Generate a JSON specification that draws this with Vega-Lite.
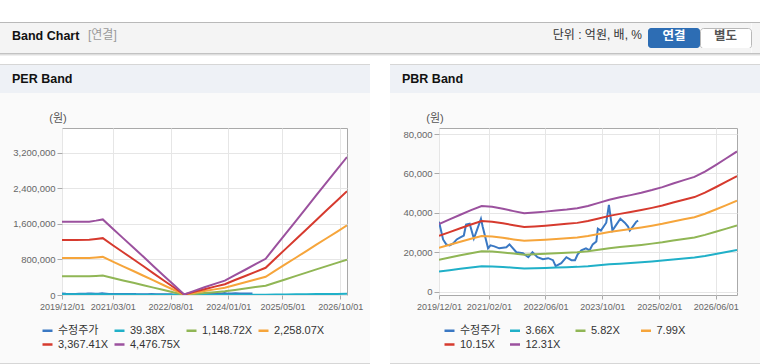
{
  "$schema": "https://vega.github.io/schema/vega-lite/v6.json",
  "padding": 0,
  "background": "#fafafa",
  "config": {
    "view": {"stroke": null},
    "concat": {"spacing": 0},
    "font": "'Liberation Sans','Noto Sans CJK KR',sans-serif",
    "title": {"baseline": "alphabetic", "frame": "group", "anchor": "start", "offset": -19}
  },
  "datasets": {
    "price": [
      {"d":"2019-12-01","s":"수정주가","v":35500},{"d":"2020-01-05","s":"수정주가","v":26500},{"d":"2020-02-01","s":"수정주가","v":24000},{"d":"2020-03-01","s":"수정주가","v":23500},{"d":"2020-04-01","s":"수정주가","v":24500},{"d":"2020-05-01","s":"수정주가","v":26500},{"d":"2020-06-01","s":"수정주가","v":27500},{"d":"2020-07-01","s":"수정주가","v":28500},{"d":"2020-07-20","s":"수정주가","v":34000},{"d":"2020-08-20","s":"수정주가","v":34500},{"d":"2020-09-25","s":"수정주가","v":27000},{"d":"2020-10-20","s":"수정주가","v":31000},{"d":"2020-11-25","s":"수정주가","v":37000},{"d":"2020-12-10","s":"수정주가","v":33000},{"d":"2021-01-25","s":"수정주가","v":22000},{"d":"2021-02-15","s":"수정주가","v":23500},{"d":"2021-03-20","s":"수정주가","v":23000},{"d":"2021-05-01","s":"수정주가","v":22000},{"d":"2021-07-01","s":"수정주가","v":22500},{"d":"2021-07-28","s":"수정주가","v":24000},{"d":"2021-09-25","s":"수정주가","v":20000},{"d":"2021-11-20","s":"수정주가","v":19500},{"d":"2022-01-05","s":"수정주가","v":17500},{"d":"2022-02-10","s":"수정주가","v":20000},{"d":"2022-03-25","s":"수정주가","v":17500},{"d":"2022-05-10","s":"수정주가","v":16500},{"d":"2022-06-25","s":"수정주가","v":17000},{"d":"2022-08-05","s":"수정주가","v":16000},{"d":"2022-08-28","s":"수정주가","v":13000},{"d":"2022-10-15","s":"수정주가","v":14500},{"d":"2022-11-28","s":"수정주가","v":17500},{"d":"2023-01-10","s":"수정주가","v":16000},{"d":"2023-02-10","s":"수정주가","v":16000},{"d":"2023-03-05","s":"수정주가","v":19000},{"d":"2023-04-05","s":"수정주가","v":21000},{"d":"2023-05-15","s":"수정주가","v":22000},{"d":"2023-06-15","s":"수정주가","v":21000},{"d":"2023-07-12","s":"수정주가","v":24000},{"d":"2023-08-12","s":"수정주가","v":25500},{"d":"2023-08-25","s":"수정주가","v":32000},{"d":"2023-09-20","s":"수정주가","v":31000},{"d":"2023-11-05","s":"수정주가","v":35000},{"d":"2023-11-28","s":"수정주가","v":44000},{"d":"2023-12-28","s":"수정주가","v":31000},{"d":"2024-01-31","s":"수정주가","v":34000},{"d":"2024-03-05","s":"수정주가","v":37000},{"d":"2024-04-12","s":"수정주가","v":35000},{"d":"2024-05-10","s":"수정주가","v":33000},{"d":"2024-05-25","s":"수정주가","v":31000},{"d":"2024-06-20","s":"수정주가","v":33000},{"d":"2024-07-20","s":"수정주가","v":35500},{"d":"2024-08-05","s":"수정주가","v":36000}
    ],
    "per": [
      {"d":"2019-12-01","s":"39.38X","v":14492},{"d":"2020-04-01","s":"39.38X","v":14492},{"d":"2020-08-01","s":"39.38X","v":14531},{"d":"2020-10-01","s":"39.38X","v":14728},{"d":"2020-12-01","s":"39.38X","v":14964},{"d":"2021-03-01","s":"39.38X","v":13114},{"d":"2021-06-01","s":"39.38X","v":11263},{"d":"2021-09-01","s":"39.38X","v":9412},{"d":"2021-12-01","s":"39.38X","v":7561},{"d":"2022-03-01","s":"39.38X","v":5710},{"d":"2022-06-01","s":"39.38X","v":3820},{"d":"2022-09-01","s":"39.38X","v":1969},{"d":"2022-12-01","s":"39.38X","v":118},{"d":"2023-03-01","s":"39.38X","v":827},{"d":"2023-06-01","s":"39.38X","v":1536},{"d":"2023-09-01","s":"39.38X","v":2205},{"d":"2023-12-01","s":"39.38X","v":2835},{"d":"2024-03-01","s":"39.38X","v":3938},{"d":"2024-06-01","s":"39.38X","v":5001},{"d":"2024-09-01","s":"39.38X","v":6104},{"d":"2024-12-01","s":"39.38X","v":7167},{"d":"2025-03-01","s":"39.38X","v":9687},{"d":"2025-06-01","s":"39.38X","v":12208},{"d":"2025-09-01","s":"39.38X","v":14728},{"d":"2025-12-01","s":"39.38X","v":17248},{"d":"2026-03-01","s":"39.38X","v":19769},{"d":"2026-06-01","s":"39.38X","v":22289},{"d":"2026-09-01","s":"39.38X","v":24809},{"d":"2026-12-01","s":"39.38X","v":27330},
      {"d":"2019-12-01","s":"1,148.72X","v":422729},{"d":"2020-04-01","s":"1,148.72X","v":422729},{"d":"2020-08-01","s":"1,148.72X","v":423878},{"d":"2020-10-01","s":"1,148.72X","v":429621},{"d":"2020-12-01","s":"1,148.72X","v":436514},{"d":"2021-03-01","s":"1,148.72X","v":382524},{"d":"2021-06-01","s":"1,148.72X","v":328534},{"d":"2021-09-01","s":"1,148.72X","v":274544},{"d":"2021-12-01","s":"1,148.72X","v":220554},{"d":"2022-03-01","s":"1,148.72X","v":166564},{"d":"2022-06-01","s":"1,148.72X","v":111426},{"d":"2022-09-01","s":"1,148.72X","v":57436},{"d":"2022-12-01","s":"1,148.72X","v":3446},{"d":"2023-03-01","s":"1,148.72X","v":24123},{"d":"2023-06-01","s":"1,148.72X","v":44800},{"d":"2023-09-01","s":"1,148.72X","v":64328},{"d":"2023-12-01","s":"1,148.72X","v":82708},{"d":"2024-03-01","s":"1,148.72X","v":114872},{"d":"2024-06-01","s":"1,148.72X","v":145887},{"d":"2024-09-01","s":"1,148.72X","v":178052},{"d":"2024-12-01","s":"1,148.72X","v":209067},{"d":"2025-03-01","s":"1,148.72X","v":282585},{"d":"2025-06-01","s":"1,148.72X","v":356103},{"d":"2025-09-01","s":"1,148.72X","v":429621},{"d":"2025-12-01","s":"1,148.72X","v":503139},{"d":"2026-03-01","s":"1,148.72X","v":576657},{"d":"2026-06-01","s":"1,148.72X","v":650176},{"d":"2026-09-01","s":"1,148.72X","v":723694},{"d":"2026-12-01","s":"1,148.72X","v":797212},
      {"d":"2019-12-01","s":"2,258.07X","v":830970},{"d":"2020-04-01","s":"2,258.07X","v":830970},{"d":"2020-08-01","s":"2,258.07X","v":833228},{"d":"2020-10-01","s":"2,258.07X","v":844518},{"d":"2020-12-01","s":"2,258.07X","v":858067},{"d":"2021-03-01","s":"2,258.07X","v":751937},{"d":"2021-06-01","s":"2,258.07X","v":645808},{"d":"2021-09-01","s":"2,258.07X","v":539679},{"d":"2021-12-01","s":"2,258.07X","v":433549},{"d":"2022-03-01","s":"2,258.07X","v":327420},{"d":"2022-06-01","s":"2,258.07X","v":219033},{"d":"2022-09-01","s":"2,258.07X","v":112904},{"d":"2022-12-01","s":"2,258.07X","v":6774},{"d":"2023-03-01","s":"2,258.07X","v":47419},{"d":"2023-06-01","s":"2,258.07X","v":88065},{"d":"2023-09-01","s":"2,258.07X","v":126452},{"d":"2023-12-01","s":"2,258.07X","v":162581},{"d":"2024-03-01","s":"2,258.07X","v":225807},{"d":"2024-06-01","s":"2,258.07X","v":286775},{"d":"2024-09-01","s":"2,258.07X","v":350001},{"d":"2024-12-01","s":"2,258.07X","v":410969},{"d":"2025-03-01","s":"2,258.07X","v":555485},{"d":"2025-06-01","s":"2,258.07X","v":700002},{"d":"2025-09-01","s":"2,258.07X","v":844518},{"d":"2025-12-01","s":"2,258.07X","v":989035},{"d":"2026-03-01","s":"2,258.07X","v":1133551},{"d":"2026-06-01","s":"2,258.07X","v":1278068},{"d":"2026-09-01","s":"2,258.07X","v":1422584},{"d":"2026-12-01","s":"2,258.07X","v":1567101},
      {"d":"2019-12-01","s":"3,367.41X","v":1239207},{"d":"2020-04-01","s":"3,367.41X","v":1239207},{"d":"2020-08-01","s":"3,367.41X","v":1242574},{"d":"2020-10-01","s":"3,367.41X","v":1259411},{"d":"2020-12-01","s":"3,367.41X","v":1279616},{"d":"2021-03-01","s":"3,367.41X","v":1121348},{"d":"2021-06-01","s":"3,367.41X","v":963079},{"d":"2021-09-01","s":"3,367.41X","v":804811},{"d":"2021-12-01","s":"3,367.41X","v":646543},{"d":"2022-03-01","s":"3,367.41X","v":488274},{"d":"2022-06-01","s":"3,367.41X","v":326639},{"d":"2022-09-01","s":"3,367.41X","v":168371},{"d":"2022-12-01","s":"3,367.41X","v":10102},{"d":"2023-03-01","s":"3,367.41X","v":70716},{"d":"2023-06-01","s":"3,367.41X","v":131329},{"d":"2023-09-01","s":"3,367.41X","v":188575},{"d":"2023-12-01","s":"3,367.41X","v":242454},{"d":"2024-03-01","s":"3,367.41X","v":336741},{"d":"2024-06-01","s":"3,367.41X","v":427661},{"d":"2024-09-01","s":"3,367.41X","v":521949},{"d":"2024-12-01","s":"3,367.41X","v":612869},{"d":"2025-03-01","s":"3,367.41X","v":828383},{"d":"2025-06-01","s":"3,367.41X","v":1043897},{"d":"2025-09-01","s":"3,367.41X","v":1259411},{"d":"2025-12-01","s":"3,367.41X","v":1474926},{"d":"2026-03-01","s":"3,367.41X","v":1690440},{"d":"2026-06-01","s":"3,367.41X","v":1905954},{"d":"2026-09-01","s":"3,367.41X","v":2121468},{"d":"2026-12-01","s":"3,367.41X","v":2336983},
      {"d":"2019-12-01","s":"4,476.75X","v":1647444},{"d":"2020-04-01","s":"4,476.75X","v":1647444},{"d":"2020-08-01","s":"4,476.75X","v":1651921},{"d":"2020-10-01","s":"4,476.75X","v":1674305},{"d":"2020-12-01","s":"4,476.75X","v":1701165},{"d":"2021-03-01","s":"4,476.75X","v":1490758},{"d":"2021-06-01","s":"4,476.75X","v":1280351},{"d":"2021-09-01","s":"4,476.75X","v":1069943},{"d":"2021-12-01","s":"4,476.75X","v":859536},{"d":"2022-03-01","s":"4,476.75X","v":649129},{"d":"2022-06-01","s":"4,476.75X","v":434245},{"d":"2022-09-01","s":"4,476.75X","v":223838},{"d":"2022-12-01","s":"4,476.75X","v":13430},{"d":"2023-03-01","s":"4,476.75X","v":94012},{"d":"2023-06-01","s":"4,476.75X","v":174593},{"d":"2023-09-01","s":"4,476.75X","v":250698},{"d":"2023-12-01","s":"4,476.75X","v":322326},{"d":"2024-03-01","s":"4,476.75X","v":447675},{"d":"2024-06-01","s":"4,476.75X","v":568547},{"d":"2024-09-01","s":"4,476.75X","v":693896},{"d":"2024-12-01","s":"4,476.75X","v":814769},{"d":"2025-03-01","s":"4,476.75X","v":1101281},{"d":"2025-06-01","s":"4,476.75X","v":1387793},{"d":"2025-09-01","s":"4,476.75X","v":1674305},{"d":"2025-12-01","s":"4,476.75X","v":1960817},{"d":"2026-03-01","s":"4,476.75X","v":2247329},{"d":"2026-06-01","s":"4,476.75X","v":2533841},{"d":"2026-09-01","s":"4,476.75X","v":2820353},{"d":"2026-12-01","s":"4,476.75X","v":3106865}
    ],
    "pbr": [
      {"d":"2019-12-01","s":"3.66X","v":10211},{"d":"2020-03-01","s":"3.66X","v":10907},{"d":"2020-06-01","s":"3.66X","v":11602},{"d":"2020-09-01","s":"3.66X","v":12298},{"d":"2020-12-01","s":"3.66X","v":12920},{"d":"2021-03-01","s":"3.66X","v":12810},{"d":"2021-06-01","s":"3.66X","v":12517},{"d":"2021-09-01","s":"3.66X","v":12151},{"d":"2021-12-01","s":"3.66X","v":11822},{"d":"2022-03-01","s":"3.66X","v":11932},{"d":"2022-06-01","s":"3.66X","v":12078},{"d":"2022-09-01","s":"3.66X","v":12261},{"d":"2022-12-01","s":"3.66X","v":12407},{"d":"2023-03-01","s":"3.66X","v":12590},{"d":"2023-06-01","s":"3.66X","v":12920},{"d":"2023-09-01","s":"3.66X","v":13396},{"d":"2023-12-01","s":"3.66X","v":13871},{"d":"2024-03-01","s":"3.66X","v":14237},{"d":"2024-06-01","s":"3.66X","v":14567},{"d":"2024-09-01","s":"3.66X","v":14933},{"d":"2024-12-01","s":"3.66X","v":15335},{"d":"2025-03-01","s":"3.66X","v":15775},{"d":"2025-06-01","s":"3.66X","v":16324},{"d":"2025-09-01","s":"3.66X","v":16836},{"d":"2025-12-01","s":"3.66X","v":17312},{"d":"2026-03-01","s":"3.66X","v":18117},{"d":"2026-06-01","s":"3.66X","v":19105},{"d":"2026-09-01","s":"3.66X","v":20130},{"d":"2026-12-01","s":"3.66X","v":21155},
      {"d":"2019-12-01","s":"5.82X","v":16238},{"d":"2020-03-01","s":"5.82X","v":17344},{"d":"2020-06-01","s":"5.82X","v":18449},{"d":"2020-09-01","s":"5.82X","v":19555},{"d":"2020-12-01","s":"5.82X","v":20545},{"d":"2021-03-01","s":"5.82X","v":20370},{"d":"2021-06-01","s":"5.82X","v":19904},{"d":"2021-09-01","s":"5.82X","v":19322},{"d":"2021-12-01","s":"5.82X","v":18799},{"d":"2022-03-01","s":"5.82X","v":18973},{"d":"2022-06-01","s":"5.82X","v":19206},{"d":"2022-09-01","s":"5.82X","v":19497},{"d":"2022-12-01","s":"5.82X","v":19730},{"d":"2023-03-01","s":"5.82X","v":20021},{"d":"2023-06-01","s":"5.82X","v":20545},{"d":"2023-09-01","s":"5.82X","v":21301},{"d":"2023-12-01","s":"5.82X","v":22058},{"d":"2024-03-01","s":"5.82X","v":22640},{"d":"2024-06-01","s":"5.82X","v":23164},{"d":"2024-09-01","s":"5.82X","v":23746},{"d":"2024-12-01","s":"5.82X","v":24386},{"d":"2025-03-01","s":"5.82X","v":25084},{"d":"2025-06-01","s":"5.82X","v":25957},{"d":"2025-09-01","s":"5.82X","v":26772},{"d":"2025-12-01","s":"5.82X","v":27529},{"d":"2026-03-01","s":"5.82X","v":28809},{"d":"2026-06-01","s":"5.82X","v":30380},{"d":"2026-09-01","s":"5.82X","v":32010},{"d":"2026-12-01","s":"5.82X","v":33640},
      {"d":"2019-12-01","s":"7.99X","v":22292},{"d":"2020-03-01","s":"7.99X","v":23810},{"d":"2020-06-01","s":"7.99X","v":25328},{"d":"2020-09-01","s":"7.99X","v":26846},{"d":"2020-12-01","s":"7.99X","v":28205},{"d":"2021-03-01","s":"7.99X","v":27965},{"d":"2021-06-01","s":"7.99X","v":27326},{"d":"2021-09-01","s":"7.99X","v":26527},{"d":"2021-12-01","s":"7.99X","v":25808},{"d":"2022-03-01","s":"7.99X","v":26047},{"d":"2022-06-01","s":"7.99X","v":26367},{"d":"2022-09-01","s":"7.99X","v":26767},{"d":"2022-12-01","s":"7.99X","v":27086},{"d":"2023-03-01","s":"7.99X","v":27486},{"d":"2023-06-01","s":"7.99X","v":28205},{"d":"2023-09-01","s":"7.99X","v":29243},{"d":"2023-12-01","s":"7.99X","v":30282},{"d":"2024-03-01","s":"7.99X","v":31081},{"d":"2024-06-01","s":"7.99X","v":31800},{"d":"2024-09-01","s":"7.99X","v":32599},{"d":"2024-12-01","s":"7.99X","v":33478},{"d":"2025-03-01","s":"7.99X","v":34437},{"d":"2025-06-01","s":"7.99X","v":35635},{"d":"2025-09-01","s":"7.99X","v":36754},{"d":"2025-12-01","s":"7.99X","v":37793},{"d":"2026-03-01","s":"7.99X","v":39551},{"d":"2026-06-01","s":"7.99X","v":41708},{"d":"2026-09-01","s":"7.99X","v":43945},{"d":"2026-12-01","s":"7.99X","v":46182},
      {"d":"2019-12-01","s":"10.15X","v":28319},{"d":"2020-03-01","s":"10.15X","v":30247},{"d":"2020-06-01","s":"10.15X","v":32176},{"d":"2020-09-01","s":"10.15X","v":34104},{"d":"2020-12-01","s":"10.15X","v":35830},{"d":"2021-03-01","s":"10.15X","v":35525},{"d":"2021-06-01","s":"10.15X","v":34713},{"d":"2021-09-01","s":"10.15X","v":33698},{"d":"2021-12-01","s":"10.15X","v":32785},{"d":"2022-03-01","s":"10.15X","v":33089},{"d":"2022-06-01","s":"10.15X","v":33495},{"d":"2022-09-01","s":"10.15X","v":34003},{"d":"2022-12-01","s":"10.15X","v":34409},{"d":"2023-03-01","s":"10.15X","v":34916},{"d":"2023-06-01","s":"10.15X","v":35830},{"d":"2023-09-01","s":"10.15X","v":37149},{"d":"2023-12-01","s":"10.15X","v":38469},{"d":"2024-03-01","s":"10.15X","v":39484},{"d":"2024-06-01","s":"10.15X","v":40397},{"d":"2024-09-01","s":"10.15X","v":41412},{"d":"2024-12-01","s":"10.15X","v":42529},{"d":"2025-03-01","s":"10.15X","v":43747},{"d":"2025-06-01","s":"10.15X","v":45269},{"d":"2025-09-01","s":"10.15X","v":46690},{"d":"2025-12-01","s":"10.15X","v":48010},{"d":"2026-03-01","s":"10.15X","v":50243},{"d":"2026-06-01","s":"10.15X","v":52983},{"d":"2026-09-01","s":"10.15X","v":55825},{"d":"2026-12-01","s":"10.15X","v":58667},
      {"d":"2019-12-01","s":"12.31X","v":34345},{"d":"2020-03-01","s":"12.31X","v":36684},{"d":"2020-06-01","s":"12.31X","v":39023},{"d":"2020-09-01","s":"12.31X","v":41362},{"d":"2020-12-01","s":"12.31X","v":43454},{"d":"2021-03-01","s":"12.31X","v":43085},{"d":"2021-06-01","s":"12.31X","v":42100},{"d":"2021-09-01","s":"12.31X","v":40869},{"d":"2021-12-01","s":"12.31X","v":39761},{"d":"2022-03-01","s":"12.31X","v":40131},{"d":"2022-06-01","s":"12.31X","v":40623},{"d":"2022-09-01","s":"12.31X","v":41239},{"d":"2022-12-01","s":"12.31X","v":41731},{"d":"2023-03-01","s":"12.31X","v":42346},{"d":"2023-06-01","s":"12.31X","v":43454},{"d":"2023-09-01","s":"12.31X","v":45055},{"d":"2023-12-01","s":"12.31X","v":46655},{"d":"2024-03-01","s":"12.31X","v":47886},{"d":"2024-06-01","s":"12.31X","v":48994},{"d":"2024-09-01","s":"12.31X","v":50225},{"d":"2024-12-01","s":"12.31X","v":51579},{"d":"2025-03-01","s":"12.31X","v":53056},{"d":"2025-06-01","s":"12.31X","v":54903},{"d":"2025-09-01","s":"12.31X","v":56626},{"d":"2025-12-01","s":"12.31X","v":58226},{"d":"2026-03-01","s":"12.31X","v":60935},{"d":"2026-06-01","s":"12.31X","v":64258},{"d":"2026-09-01","s":"12.31X","v":67705},{"d":"2026-12-01","s":"12.31X","v":71152}
    ]
  },
  "spacing": 0,
  "resolve": {"scale": {"color": "independent"}},
  "vconcat": [
    {"width": 760, "height": 22, "data": {"values": []}, "mark": "rect", "view": {"fill": "#ffffff"}},
    {"width": 760, "height": 1, "data": {"values": []}, "mark": "rect", "view": {"fill": "#b9b9b9"}},
    {
      "spacing": 0,
      "hconcat": [
        {"width": 88, "height": 30, "data": {"values": []}, "mark": "rect", "view": {"fill": "#f4f4f4"},
         "title": {"text": "Band Chart", "dx": 12, "offset": -19, "fontSize": 12.5, "fontWeight": "bold", "color": "#111111"}},
        {"width": 100, "height": 30, "data": {"values": []}, "mark": "rect", "view": {"fill": "#f4f4f4"},
         "title": {"text": "[연결]", "dx": 0, "offset": -19, "fontSize": 12, "fontWeight": "normal", "color": "#9a9a9a"}},
        {"width": 460, "height": 30, "data": {"values": []}, "mark": "rect", "view": {"fill": "#f4f4f4"},
         "title": {"text": "단위 : 억원, 배, %", "anchor": "end", "dx": -6, "offset": -19, "fontSize": 12, "fontWeight": "normal", "color": "#333333"}},
        {
          "bounds": "flush", "spacing": 0, "columns": 2, "align": "each",
          "concat": [
            {"width": 52, "height": 5, "data": {"values": []}, "mark": "rect", "view": {"fill": "#f4f4f4"}},
            {"width": 51, "height": 5, "data": {"values": []}, "mark": "rect", "view": {"fill": "#f4f4f4"}},
            {"width": 52, "height": 20, "data": {"values": []}, "mark": "rect", "view": {"fill": "#2d6db4", "cornerRadius": 3},
             "title": {"text": "연결", "anchor": "middle", "offset": -14, "fontSize": 12.5, "fontWeight": "bold", "color": "#ffffff"}},
            {"width": 51, "height": 20, "data": {"values": []}, "mark": "rect", "view": {"fill": "#ffffff", "stroke": "#b8b8b8", "cornerRadius": 3},
             "title": {"text": "별도", "anchor": "middle", "offset": -14, "fontSize": 12.5, "fontWeight": "bold", "color": "#555555"}},
            {"width": 52, "height": 5, "data": {"values": []}, "mark": "rect", "view": {"fill": "#f4f4f4"}},
            {"width": 51, "height": 5, "data": {"values": []}, "mark": "rect", "view": {"fill": "#f4f4f4"}}
          ]
        },
        {"width": 8, "height": 30, "data": {"values": []}, "mark": "rect", "view": {"fill": "#f4f4f4"}}
      ]
    },
    {"width": 760, "height": 1, "data": {"values": []}, "mark": "rect", "view": {"fill": "#c2c2c2"}},
    {"width": 760, "height": 1, "data": {"values": []}, "mark": "rect", "view": {"fill": "#dedede"}},
    {"width": 760, "height": 1, "data": {"values": []}, "mark": "rect", "view": {"fill": "#efefef"}},
    {"width": 760, "height": 8, "data": {"values": []}, "mark": "rect", "view": {"fill": "#ffffff"}},
    {
      "spacing": 0,
      "resolve": {"scale": {"color": "independent"}},
      "hconcat": [
        {
          "spacing": 0,
          "resolve": {"scale": {"color": "independent"}},
          "vconcat": [
            {"width": 370, "height": 1, "data": {"values": []}, "mark": "rect", "view": {"fill": "#d6d6d6"}},
            {"width": 370, "height": 28, "data": {"values": []}, "mark": "rect", "view": {"fill": "#eef1f6"},
             "title": {"text": "PER Band", "dx": 12, "offset": -20, "fontSize": 12.5, "fontWeight": "bold", "color": "#111111"}},
            {
              "bounds": "flush", "spacing": 0, "columns": 3, "align": "each",
              "resolve": {"scale": {"color": "independent"}},
              "concat": [
                {"width": 62, "height": 35, "data": {"values": []}, "mark": "rect"},
                {"width": 285, "height": 35, "data": {"values": []}, "mark": "rect"},
                {"width": 23, "height": 35, "data": {"values": []}, "mark": "rect"},
                {"width": 62, "height": 167, "data": {"values": []}, "mark": "rect"},
                {
                  "width": 285, "height": 167,
                  "view": {"fill": "#ffffff", "stroke": "#a9a9a9"},
                  "encoding": {
                    "x": {"field": "d", "type": "temporal",
                          "scale": {"type": "utc", "domain": [{"year": 2019, "month": 12, "date": 1, "utc": true}, {"year": 2026, "month": 12, "date": 1, "utc": true}]},
                          "axis": {"title": null, "values": [{"year": 2019, "month": 12, "date": 1, "utc": true}, {"year": 2021, "month": 3, "date": 1, "utc": true}, {"year": 2022, "month": 8, "date": 1, "utc": true}, {"year": 2024, "month": 1, "date": 1, "utc": true}, {"year": 2025, "month": 5, "date": 1, "utc": true}, {"year": 2026, "month": 10, "date": 1, "utc": true}],
                                   "format": "%Y/%m/%d", "labelFontSize": 9, "labelColor": "#666666", "labelPadding": 3, "tickSize": 4, "tickColor": "#aaaaaa", "domain": false, "grid": true, "gridColor": "#e6e6e6", "labelOverlap": false, "labelFlush": false}},
                    "y": {"field": "v", "type": "quantitative",
                          "scale": {"domain": [0, 3760000], "nice": false, "zero": false},
                          "axis": {"title": "(원)", "values": [0, 800000, 1600000, 2400000, 3200000], "format": ",d", "labelFontSize": 9.5, "labelColor": "#666666", "labelPadding": 2, "tickSize": 5, "tickColor": "#aaaaaa", "domain": false, "grid": true, "gridColor": "#e6e6e6",
                                   "titleAngle": 0, "titleX": -4.5, "titleY": -10, "titleAlign": "center", "titleBaseline": "middle", "titleFontSize": 11, "titleFontWeight": "normal", "titleColor": "#555555"}},
                    "color": {"field": "s", "type": "nominal",
                              "scale": {"domain": ["수정주가", "39.38X", "1,148.72X", "2,258.07X", "3,367.41X", "4,476.75X"], "range": ["#3a78c3", "#20b0c8", "#90b655", "#f6a53b", "#d63a2e", "#9b519e"]},
                              "legend": {"title": null, "orient": "none", "legendX": -21, "legendY": 196, "direction": "horizontal", "columns": 4, "gridAlign": "all", "columnPadding": 0, "rowPadding": 2, "padding": 0,
                                         "symbolType": "stroke", "symbolSize": 100, "symbolStrokeWidth": 2.5, "labelFontSize": 11, "labelColor": "#333333", "labelOffset": 4}}
                  },
                  "layer": [
                    {"data": {"name": "price"}, "mark": {"type": "line", "strokeWidth": 2, "clip": true}},
                    {"data": {"name": "per"}, "mark": {"type": "line", "strokeWidth": 2, "clip": true}}
                  ]
                },
                {"width": 23, "height": 167, "data": {"values": []}, "mark": "rect"},
                {"width": 62, "height": 68, "data": {"values": []}, "mark": "rect"},
                {"width": 285, "height": 68, "data": {"values": []}, "mark": "rect"},
                {"width": 23, "height": 68, "data": {"values": []}, "mark": "rect"}
              ]
            },
            {"width": 370, "height": 1, "data": {"values": []}, "mark": "rect", "view": {"fill": "#d6d6d6"}}
          ]
        },
        {"width": 20, "height": 300, "data": {"values": []}, "mark": "rect", "view": {"fill": "#ffffff"}},
        {
          "spacing": 0,
          "resolve": {"scale": {"color": "independent"}},
          "vconcat": [
            {"width": 370, "height": 1, "data": {"values": []}, "mark": "rect", "view": {"fill": "#d6d6d6"}},
            {"width": 370, "height": 28, "data": {"values": []}, "mark": "rect", "view": {"fill": "#eef1f6"},
             "title": {"text": "PBR Band", "dx": 12, "offset": -20, "fontSize": 12.5, "fontWeight": "bold", "color": "#111111"}},
            {
              "bounds": "flush", "spacing": 0, "columns": 3, "align": "each",
              "resolve": {"scale": {"color": "independent"}},
              "concat": [
                {"width": 49, "height": 35, "data": {"values": []}, "mark": "rect"},
                {"width": 298, "height": 35, "data": {"values": []}, "mark": "rect"},
                {"width": 23, "height": 35, "data": {"values": []}, "mark": "rect"},
                {"width": 49, "height": 167, "data": {"values": []}, "mark": "rect"},
                {
                  "width": 298, "height": 167,
                  "view": {"fill": "#ffffff", "stroke": "#a9a9a9"},
                  "encoding": {
                    "x": {"field": "d", "type": "temporal",
                          "scale": {"type": "utc", "domain": [{"year": 2019, "month": 12, "date": 1, "utc": true}, {"year": 2026, "month": 12, "date": 1, "utc": true}]},
                          "axis": {"title": null, "values": [{"year": 2019, "month": 12, "date": 1, "utc": true}, {"year": 2021, "month": 2, "date": 1, "utc": true}, {"year": 2022, "month": 6, "date": 1, "utc": true}, {"year": 2023, "month": 10, "date": 1, "utc": true}, {"year": 2025, "month": 2, "date": 1, "utc": true}, {"year": 2026, "month": 6, "date": 1, "utc": true}],
                                   "format": "%Y/%m/%d", "labelFontSize": 9, "labelColor": "#666666", "labelPadding": 3, "tickSize": 4, "tickColor": "#aaaaaa", "domain": false, "grid": true, "gridColor": "#e6e6e6", "labelOverlap": false, "labelFlush": false}},
                    "y": {"field": "v", "type": "quantitative",
                          "scale": {"domain": [-1680, 83050], "nice": false, "zero": false},
                          "axis": {"title": "(원)", "values": [0, 20000, 40000, 60000, 80000], "format": ",d", "labelFontSize": 9.5, "labelColor": "#666666", "labelPadding": 2, "tickSize": 5, "tickColor": "#aaaaaa", "domain": false, "grid": true, "gridColor": "#e6e6e6",
                                   "titleAngle": 0, "titleX": -4.5, "titleY": -10, "titleAlign": "center", "titleBaseline": "middle", "titleFontSize": 11, "titleFontWeight": "normal", "titleColor": "#555555"}},
                    "color": {"field": "s", "type": "nominal",
                              "scale": {"domain": ["수정주가", "3.66X", "5.82X", "7.99X", "10.15X", "12.31X"], "range": ["#3a78c3", "#20b0c8", "#90b655", "#f6a53b", "#d63a2e", "#9b519e"]},
                              "legend": {"title": null, "orient": "none", "legendX": 4, "legendY": 196, "direction": "horizontal", "columns": 4, "gridAlign": "all", "columnPadding": 3.5, "rowPadding": 2, "padding": 0,
                                         "symbolType": "stroke", "symbolSize": 100, "symbolStrokeWidth": 2.5, "labelFontSize": 11, "labelColor": "#333333", "labelOffset": 4}}
                  },
                  "layer": [
                    {"data": {"name": "price"}, "mark": {"type": "line", "strokeWidth": 2, "clip": true}},
                    {"data": {"name": "pbr"}, "mark": {"type": "line", "strokeWidth": 2, "clip": true}}
                  ]
                },
                {"width": 23, "height": 167, "data": {"values": []}, "mark": "rect"},
                {"width": 49, "height": 68, "data": {"values": []}, "mark": "rect"},
                {"width": 298, "height": 68, "data": {"values": []}, "mark": "rect"},
                {"width": 23, "height": 68, "data": {"values": []}, "mark": "rect"}
              ]
            },
            {"width": 370, "height": 1, "data": {"values": []}, "mark": "rect", "view": {"fill": "#d6d6d6"}}
          ]
        }
      ]
    }
  ]
}
